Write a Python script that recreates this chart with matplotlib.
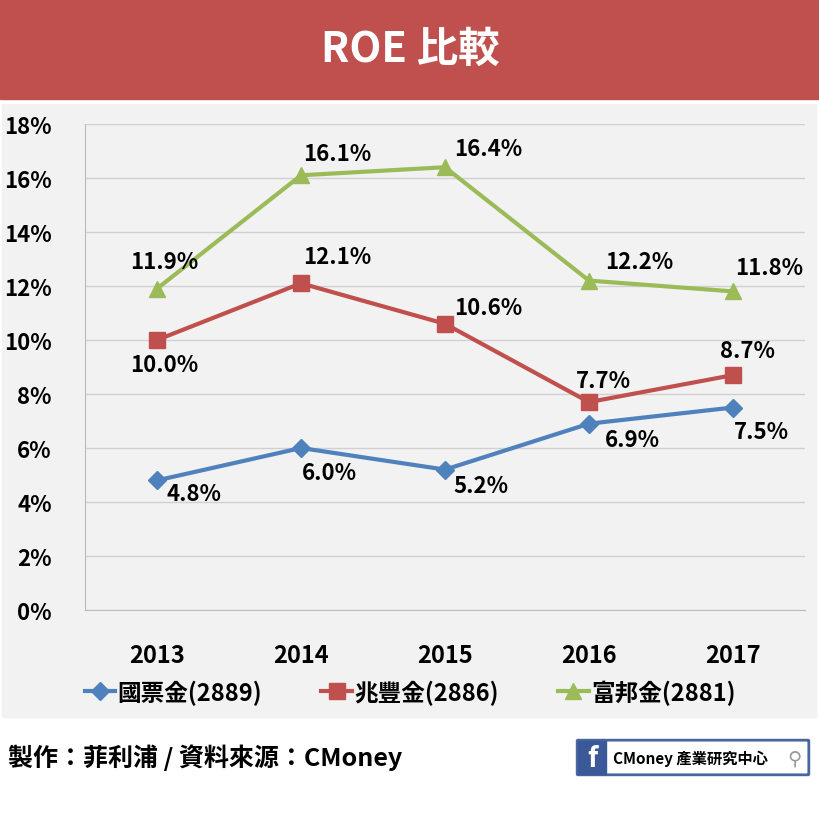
import matplotlib.pyplot as plt
from matplotlib.patches import Rectangle, FancyBboxPatch

plt.rcParams['font.family'] = ['Noto Sans CJK JP', 'Noto Sans CJK TC', 'DejaVu Sans']

years = ['2013', '2014', '2015', '2016', '2017']
guopiao = [4.8, 6.0, 5.2, 6.9, 7.5]
zhaofeng = [10.0, 12.1, 10.6, 7.7, 8.7]
fubang = [11.9, 16.1, 16.4, 12.2, 11.8]
names = ['國票金(2889)', '兆豐金(2886)', '富邦金(2881)']
yticks = [0, 2, 4, 6, 8, 10, 12, 14, 16, 18]

W, H = 820, 820
fig = plt.figure(figsize=(8.2, 8.2), dpi=100)
fig.patch.set_facecolor('white')

def fx(x): return x / W
def fy(y): return 1 - y / H

# title banner
fig.patches.append(Rectangle((0, fy(100)), 1, 100 / H, transform=fig.transFigure,
                             color='#C0504D', zorder=-5))
fig.text(0.5, fy(50), 'ROE 比較', color='white', fontsize=30, fontweight='bold',
         ha='center', va='center')
# chart background
fig.patches.append(Rectangle((fx(2), fy(718)), fx(814), (718 - 105) / H,
                             transform=fig.transFigure, color='#F2F2F2', zorder=-5))

ax = fig.add_axes([fx(85), fy(611), fx(805 - 85), (611 - 125) / H])
ax.set_facecolor('#F2F2F2')
x = range(len(years))
blue, red, green = '#4F81BD', '#C0504D', '#9BBB59'
l1, = ax.plot(x, guopiao, color=blue, lw=3, marker='D', ms=9)
l2, = ax.plot(x, zhaofeng, color=red, lw=3, marker='s', ms=11)
l3, = ax.plot(x, fubang, color=green, lw=3, marker='^', ms=11)

lbl = dict(fontsize=16, fontweight='bold', ha='center', va='center')
off_g = [(0.26, -0.5), (0.2, -0.9), (0.25, -0.6), (0.3, -0.6), (0.2, -0.9)]
off_z = [(0.05, -0.9), (0.25, 1.0), (0.3, 0.6), (0.1, 0.8), (0.1, 0.9)]
off_f = [(0.05, 1.0), (0.25, 0.8), (0.3, 0.7), (0.35, 0.7), (0.25, 0.9)]
for vals, offs in [(guopiao, off_g), (zhaofeng, off_z), (fubang, off_f)]:
    for i, (v, (dx, dy)) in enumerate(zip(vals, offs)):
        ax.text(i + dx, v + dy, f'{v:.1f}%', **lbl)

ax.set_xlim(-0.5, 4.5)
ax.set_ylim(0, 18)
ax.set_yticks(yticks)
ax.set_yticklabels([f'{t}%' for t in yticks], fontsize=16, fontweight='bold')
ax.set_xticks(list(x))
ax.set_xticklabels(years, fontsize=17, fontweight='bold')
ax.tick_params(length=0, pad=24)
ax.tick_params(axis='y', pad=24)
ax.grid(axis='y', color='#D0D0D0', lw=1)
ax.set_axisbelow(True)
for s in ['top', 'right']:
    ax.spines[s].set_visible(False)
ax.spines['left'].set_color('#BBBBBB')
ax.spines['bottom'].set_color('#BBBBBB')

fig.legend([l1, l2, l3], names, loc='center', bbox_to_anchor=(0.5, fy(693)), ncol=3,
           frameon=False, prop={'size': 17, 'weight': 'bold'}, columnspacing=2.5,
           handlelength=1.3, handletextpad=0.1)

fig.text(fx(8), fy(758), '製作：菲利浦 / 資料來源：CMoney', fontsize=18,
         fontweight='bold', va='center')
# logo
fig.patches.append(FancyBboxPatch((fx(578), fy(775)), fx(230), 33 / H, transform=fig.transFigure,
                                  boxstyle='round,pad=0.001', fc='white', ec='#4A66A0', lw=2))
fig.patches.append(Rectangle((fx(578), fy(775)), fx(28), 33 / H, transform=fig.transFigure,
                             color='#3B5998'))
fig.text(fx(592), fy(759), 'f', color='white', fontsize=20, fontweight='bold',
         ha='center', va='center')
fig.text(fx(613), fy(759), 'CMoney 產業研究中心', fontsize=11, fontweight='bold',
         va='center')
fig.text(fx(794), fy(759), '⚲', fontsize=14, color='#999999', ha='center', va='center',
         fontfamily='DejaVu Sans')

fig.savefig('out.png', dpi=100)
